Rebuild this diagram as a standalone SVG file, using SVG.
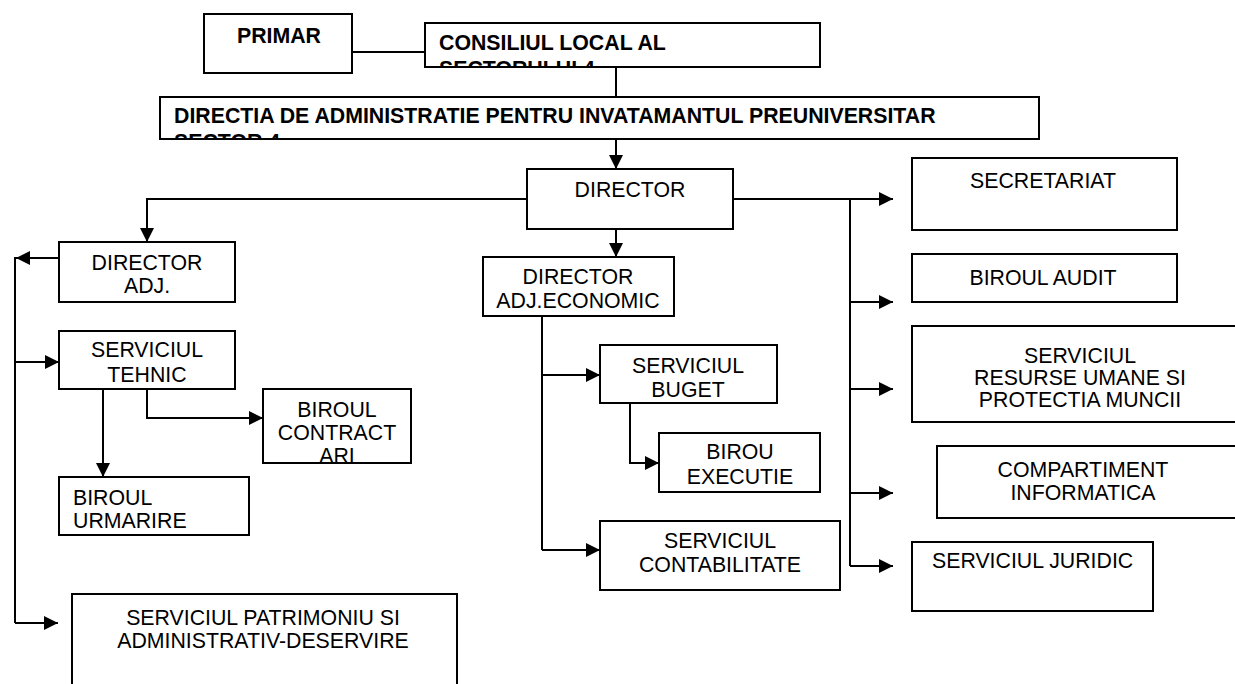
<svg xmlns="http://www.w3.org/2000/svg" width="1235" height="684" viewBox="0 0 1235 684">
<style>
.box{fill:#fff;stroke:#000;stroke-width:2}
.t{font-family:"Liberation Sans",Arial,sans-serif;font-size:21.3px;fill:#000}
.b{font-weight:bold}
.c{text-anchor:middle}
.ln{fill:none;stroke:#000;stroke-width:2}
.ar{fill:none;stroke:#000;stroke-width:2;marker-end:url(#ah)}
</style>
<defs>
<marker id="ah" markerUnits="userSpaceOnUse" markerWidth="14" markerHeight="14" refX="14" refY="7" orient="auto">
<path d="M0,0 L14,7 L0,14 z" fill="#000"/>
</marker>
<clipPath id="cp-cons"><rect x="425" y="23" width="395" height="44"/></clipPath>
<clipPath id="cp-dir"><rect x="160" y="97" width="879" height="42"/></clipPath>
<clipPath id="cp-contr"><rect x="263" y="389" width="148" height="74"/></clipPath>
</defs>
<rect width="1235" height="684" fill="#fff"/>
<g id="connectors">
<line class="ln" x1="352" y1="52" x2="425" y2="52"/>
<line class="ln" x1="616" y1="67" x2="616" y2="97"/>
<line class="ar" x1="616" y1="139" x2="616" y2="169"/>
<line class="ar" x1="616" y1="229" x2="616" y2="257"/>
<polyline class="ar" points="527,199 147,199 147,242"/>
<line class="ar" x1="733" y1="199" x2="893" y2="199"/>
<line class="ln" x1="850" y1="199" x2="850" y2="566"/>
<line class="ar" x1="850" y1="302" x2="893" y2="302"/>
<line class="ar" x1="850" y1="389" x2="893" y2="389"/>
<line class="ar" x1="850" y1="493" x2="893" y2="493"/>
<line class="ar" x1="850" y1="566" x2="893" y2="566"/>
<line class="ar" x1="59" y1="258" x2="16" y2="258"/>
<line class="ln" x1="15" y1="257" x2="15" y2="623"/>
<line class="ar" x1="15" y1="362" x2="59" y2="362"/>
<line class="ar" x1="15" y1="623" x2="58" y2="623"/>
<line class="ar" x1="103" y1="389" x2="103" y2="477"/>
<polyline class="ar" points="147,389 147,418 263,418"/>
<line class="ln" x1="542" y1="316" x2="542" y2="550"/>
<line class="ar" x1="542" y1="375" x2="600" y2="375"/>
<line class="ar" x1="542" y1="550" x2="600" y2="550"/>
<polyline class="ar" points="630,403 630,463 659,463"/>
</g>
<g id="primar">
<rect class="box" x="204" y="14" width="148" height="59"/>
<text class="t b" x="237" y="43">PRIMAR</text>
</g>
<g id="consiliul">
<rect class="box" x="425" y="23" width="395" height="44"/>
<g clip-path="url(#cp-cons)">
<text class="t b" x="439" y="50">CONSILIUL LOCAL AL</text>
<text class="t b" x="439" y="76">SECTORULUI 4</text>
</g>
</g>
<g id="directia">
<rect class="box" x="160" y="97" width="879" height="42"/>
<g clip-path="url(#cp-dir)">
<text class="t b" x="174" y="123">DIRECTIA DE ADMINISTRATIE PENTRU INVATAMANTUL PREUNIVERSITAR</text>
<text class="t b" x="174" y="149">SECTOR 4</text>
</g>
</g>
<g id="director">
<rect class="box" x="527" y="169" width="206" height="60"/>
<text class="t c" x="630" y="197">DIRECTOR</text>
</g>
<g id="director-adj">
<rect class="box" x="59" y="242" width="176" height="60"/>
<text class="t c" x="147" y="270">DIRECTOR</text>
<text class="t c" x="147" y="293">ADJ.</text>
</g>
<g id="director-adj-economic">
<rect class="box" x="483" y="257" width="191" height="59"/>
<text class="t c" x="578" y="284">DIRECTOR</text>
<text class="t c" x="578" y="308">ADJ.ECONOMIC</text>
</g>
<g id="secretariat">
<rect class="box" x="912" y="158" width="265" height="72"/>
<text class="t c" x="1043" y="188">SECRETARIAT</text>
</g>
<g id="biroul-audit">
<rect class="box" x="912" y="254" width="265" height="48"/>
<text class="t c" x="1043" y="285">BIROUL AUDIT</text>
</g>
<g id="resurse-umane">
<rect class="box" x="912" y="326" width="340" height="96"/>
<text class="t c" x="1080" y="363">SERVICIUL</text>
<text class="t c" x="1080" y="385">RESURSE UMANE SI</text>
<text class="t c" x="1080" y="407">PROTECTIA MUNCII</text>
</g>
<g id="compartiment-informatica">
<rect class="box" x="937" y="446" width="310" height="72"/>
<text class="t c" x="1083" y="477">COMPARTIMENT</text>
<text class="t c" x="1083" y="500">INFORMATICA</text>
</g>
<g id="serviciul-juridic">
<rect class="box" x="912" y="542" width="241" height="69"/>
<text class="t" x="932" y="568">SERVICIUL JURIDIC</text>
</g>
<g id="serviciul-tehnic">
<rect class="box" x="59" y="331" width="176" height="58"/>
<text class="t c" x="147" y="357">SERVICIUL</text>
<text class="t c" x="147" y="382">TEHNIC</text>
</g>
<g id="biroul-urmarire">
<rect class="box" x="59" y="477" width="190" height="58"/>
<text class="t" x="73" y="505">BIROUL</text>
<text class="t" x="73" y="528">URMARIRE</text>
</g>
<g id="biroul-contractari">
<rect class="box" x="263" y="389" width="148" height="74"/>
<g clip-path="url(#cp-contr)">
<text class="t c" x="337" y="417">BIROUL</text>
<text class="t c" x="337" y="440">CONTRACT</text>
<text class="t c" x="337" y="463">ARI</text>
</g>
</g>
<g id="serviciul-buget">
<rect class="box" x="600" y="345" width="177" height="58"/>
<text class="t c" x="688" y="373">SERVICIUL</text>
<text class="t c" x="688" y="397">BUGET</text>
</g>
<g id="birou-executie">
<rect class="box" x="659" y="433" width="161" height="59"/>
<text class="t c" x="740" y="459">BIROU</text>
<text class="t c" x="740" y="484">EXECUTIE</text>
</g>
<g id="serviciul-contabilitate">
<rect class="box" x="600" y="521" width="240" height="69"/>
<text class="t c" x="720" y="548">SERVICIUL</text>
<text class="t c" x="720" y="572">CONTABILITATE</text>
</g>
<g id="serviciul-patrimoniu">
<rect class="box" x="72" y="594" width="385" height="100"/>
<text class="t c" x="263" y="625">SERVICIUL PATRIMONIU SI</text>
<text class="t c" x="263" y="648">ADMINISTRATIV-DESERVIRE</text>
</g>
</svg>
